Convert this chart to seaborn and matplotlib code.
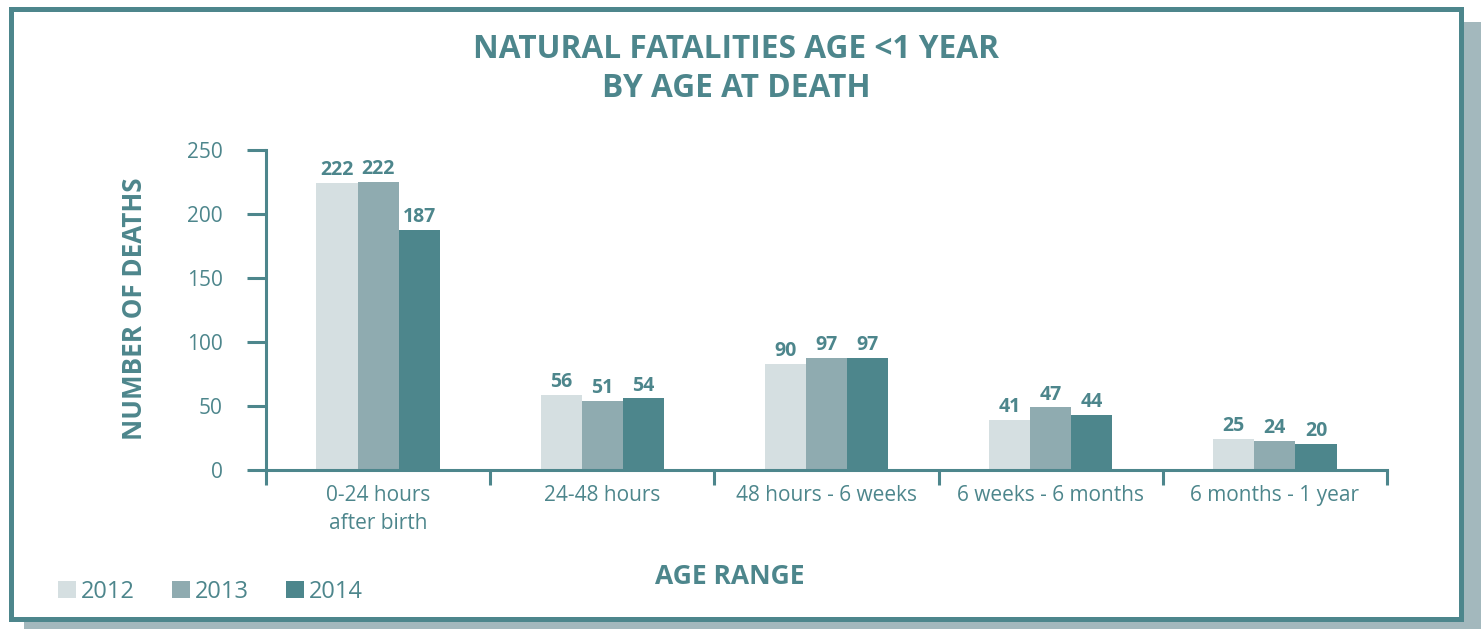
"""Natural fatalities age <1 year, by age at death (grouped bars)."""
import pandas as pd
import matplotlib
matplotlib.use("Agg")
import matplotlib.pyplot as plt
from matplotlib.patches import Rectangle
import seaborn as sns

# data
age_ranges = ["0-24 hours\nafter birth", "24-48 hours", "48 hours - 6 weeks",
              "6 weeks - 6 months", "6 months - 1 year"]
years = ["2012", "2013", "2014"]
# printed value labels
labels_2012 = [222, 56, 90, 41, 25]
labels_2013 = [222, 51, 97, 47, 24]
labels_2014 = [187, 54, 97, 44, 20]
# bar heights as drawn in the original (they do not match the labels exactly)
height_2012 = [224.5, 58.5, 83, 39, 24.5]
height_2013 = [225, 54, 87.5, 49, 23]
height_2014 = [187.5, 56, 87.5, 43, 20.5]

TEAL = "#4d868c"
SHADOW = "#a3b8bd"
palette = {"2012": "#d5dfe1", "2013": "#8fabb0", "2014": "#4d868c"}

rows = []
for yr, hs in zip(years, [height_2012, height_2013, height_2014]):
    for cat, h in zip(age_ranges, hs):
        rows.append({"age": cat, "year": yr, "deaths": h})
df = pd.DataFrame(rows)

sns.set_theme(style="white")
plt.rcParams["font.family"] = ["Open Sans", "DejaVu Sans"]

W, H = 1481, 629
fig = plt.figure(figsize=(W / 100, H / 100), dpi=100)

# shadow + framed box, kept behind the axes
fig.patches.append(Rectangle((24 / W, 0), (W - 24) / W, (H - 22) / H,
                             transform=fig.transFigure, facecolor=SHADOW,
                             edgecolor="none", zorder=-2))
fig.patches.append(Rectangle((10.5 / W, (H - 618.5) / H), (1461 - 10.5) / W,
                             (618.5 - 8.5) / H, transform=fig.transFigure,
                             facecolor="white", edgecolor=TEAL, linewidth=3.6,
                             zorder=-1))

ax = fig.add_axes([266 / W, (H - 470) / H, (1387 - 266) / W, 320 / H])
ax.set_facecolor("none")
ax.set_zorder(1)

sns.barplot(data=df, x="age", y="deaths", hue="year", palette=palette,
            width=0.55, gap=0, saturation=1, linewidth=0, ax=ax)

for cont, labs in zip(ax.containers, [labels_2012, labels_2013, labels_2014]):
    ax.bar_label(cont, labels=[str(v) for v in labs], padding=2,
                 color=TEAL, fontsize=14, fontweight="bold")

ax.set_ylim(0, 250)
ax.set_xlim(-0.5, len(age_ranges) - 0.5)
ax.set_yticks(range(0, 251, 50))
ax.set_xticks(range(len(age_ranges)))
ax.set_xticklabels(age_ranges, linespacing=1.4)
ax.set_xticks([i - 0.5 for i in range(len(age_ranges) + 1)], minor=True)

for side in ["top", "right"]:
    ax.spines[side].set_visible(False)
for side in ["left", "bottom"]:
    ax.spines[side].set_color(TEAL)
    ax.spines[side].set_linewidth(2.2)

ax.tick_params(axis="y", which="major", direction="out", length=14, width=2.2,
               color=TEAL, labelcolor=TEAL, labelsize=15, pad=17, left=True)
ax.tick_params(axis="x", which="major", length=0, labelcolor=TEAL,
               labelsize=15, pad=11)
ax.tick_params(axis="x", which="minor", direction="out", length=11, width=2.2,
               color=TEAL, bottom=True)

ax.set_xlabel("")
ax.set_ylabel("")
fig.text(730 / W, (H - 576) / H, "AGE RANGE", color=TEAL, fontsize=19,
         fontweight="bold", ha="center", va="center")
fig.text(135 / W, (H - 309) / H, "NUMBER OF DEATHS", color=TEAL, fontsize=18.7,
         fontweight="bold", ha="center", va="center", rotation=90)
fig.text(736 / W, (H - 69) / H, "NATURAL FATALITIES AGE <1 YEAR\nBY AGE AT DEATH",
         color=TEAL, fontsize=22.8, fontweight="bold", ha="center", va="center",
         linespacing=1.22)

handles, labels = ax.get_legend_handles_labels()
ax.get_legend().remove()
fig.legend(handles, labels, loc="lower left",
           bbox_to_anchor=(58 / W, (H - 604) / H), bbox_transform=fig.transFigure,
           ncol=3, frameon=False, fontsize=17, labelcolor=TEAL,
           handlelength=0.75, handleheight=0.75, handletextpad=0.2,
           columnspacing=1.6, borderpad=0, borderaxespad=0)

fig.savefig("out.png", dpi=100)
